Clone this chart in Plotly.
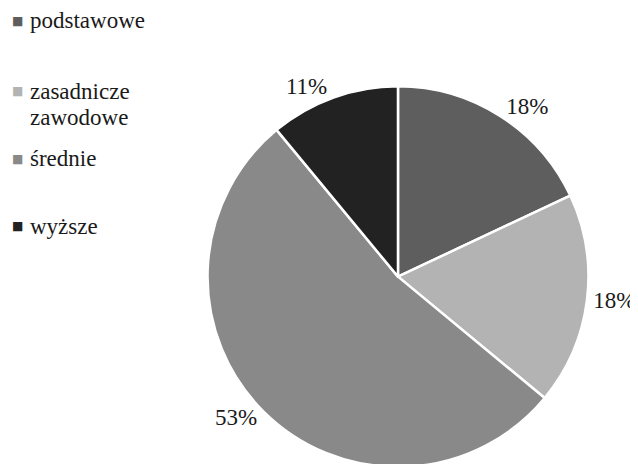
import plotly.graph_objects as go

categories = ["podstawowe", "zasadnicze<br>zawodowe", "średnie", "wyższe"]
values = [18, 18, 53, 11]
colors = ["#5e5e5e", "#b3b3b3", "#898989", "#222222"]

FONT = "Liberation Serif, Times New Roman, serif"

fig = go.Figure(go.Pie(
    labels=categories,
    values=values,
    sort=False,
    direction="clockwise",
    rotation=0,
    marker=dict(colors=colors, line=dict(color="white", width=2.5)),
    textinfo="percent",
    texttemplate="%{percent:.0%}",
    textposition="outside",
    textfont=dict(family=FONT, size=23, color="#1a1a1a"),
    domain=dict(x=[0.3103, 0.9122], y=[0.002, 0.830]),
    showlegend=False,
    hoverinfo="label+percent",
))

# legend drawn as text: square marker + label lines
legend_box_y = [13, 84, 152, 220]
line_gap = 26
for lab, col, by in zip(categories, colors, legend_box_y):
    fig.add_annotation(
        x=2, y=464 - by, xref="x", yref="y",
        xanchor="left", yanchor="middle",
        text="■", showarrow=False,
        font=dict(family="DejaVu Sans", size=12, color=col),
    )
    for i, line in enumerate(lab.split("<br>")):
        fig.add_annotation(
            x=20, y=464 - by - i * line_gap, xref="x", yref="y",
            xanchor="left", yanchor="middle", align="left",
            text=line, showarrow=False,
            font=dict(family=FONT, size=23, color="#1a1a1a"),
        )

fig.update_xaxes(range=[0, 638], visible=False, fixedrange=True)
fig.update_yaxes(range=[0, 464], visible=False, fixedrange=True)

fig.update_layout(
    width=638, height=464,
    margin=dict(l=0, r=0, t=0, b=0),
    paper_bgcolor="white", plot_bgcolor="white",
    font=dict(family=FONT),
)

fig.write_html("out.html")
